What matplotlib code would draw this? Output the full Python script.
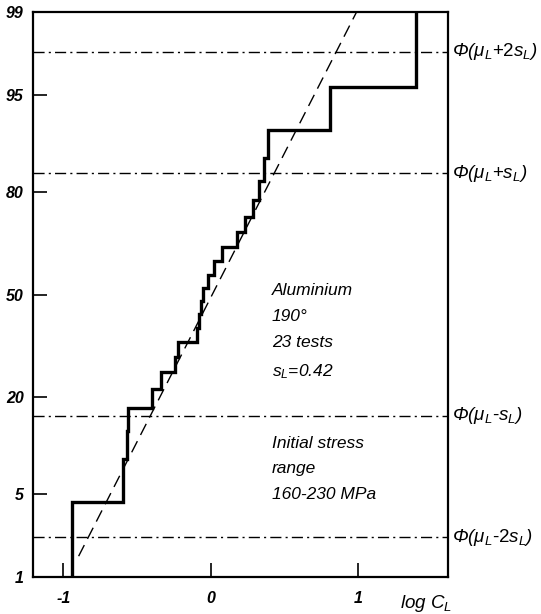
import numpy as np
import matplotlib
matplotlib.use("Agg")
import matplotlib.pyplot as plt
from statistics import NormalDist

# ---------------- data ----------------
log_c = [-0.942, -0.593, -0.569, -0.559, -0.400, -0.339, -0.244, -0.224,
         -0.095, -0.081, -0.068, -0.054, -0.020, 0.020, 0.075, 0.176,
         0.231, 0.285, 0.325, 0.359, 0.386, 0.807, 1.390]
cum_pct = [4.35, 8.70, 13.04, 17.39, 21.74, 26.09, 30.43, 34.78, 39.13,
           43.48, 47.83, 52.17, 56.52, 60.87, 65.22, 69.57, 73.91, 78.26,
           82.61, 86.96, 91.30, 95.65, 100.0]
fit_mu = 0.01
fit_s = 0.42
fit_p = [1.55, 99.5]
sigma_levels = [2, 1, -1, -2]
sigma_labels = [r"$\Phi(\mu_L$+2$s_L)$", r"$\Phi(\mu_L$+$s_L)$",
                r"$\Phi(\mu_L$-$s_L)$", r"$\Phi(\mu_L$-2$s_L)$"]
y_ticks = [1, 5, 20, 50, 80, 95, 99]
y_ticklabels = ["1", "5", "20", "50", "80", "95", "99"]
x_ticks = [-1, 0, 1]
x_ticklabels = ["-1", "0", "1"]
note1 = "Aluminium\n190°\n23 tests\n" + r"$s_L$=0.42"
note2 = "Initial stress\nrange\n160-230 MPa"

# ---------------- fonts ----------------
plt.rcParams["font.family"] = ["Liberation Sans", "DejaVu Sans"]
plt.rcParams["mathtext.fontset"] = "custom"
plt.rcParams["mathtext.rm"] = "Liberation Sans:italic"
plt.rcParams["mathtext.it"] = "Liberation Sans:italic"
plt.rcParams["mathtext.bf"] = "Liberation Sans:bold"

_nd = NormalDist()
_inv = np.vectorize(lambda q: _nd.inv_cdf(q), otypes=[float])
_cdf = np.vectorize(lambda z: _nd.cdf(z), otypes=[float])


def fwd(p):
    p = np.asarray(p, dtype=float)
    q = np.clip(p / 100.0, 1e-6, 1 - 1e-6)
    return _inv(q)


def inv(z):
    z = np.asarray(z, dtype=float)
    return _cdf(z) * 100.0


fig = plt.figure(figsize=(5.41, 6.14), dpi=100)
ax = fig.add_axes([0.0616, 0.0607, 0.7671, 0.9193])
ax.set_yscale("function", functions=(fwd, inv))
ax.set_xlim(-1.203, 1.61)
ax.set_ylim(1, 99)

# step (empirical distribution)
levels = [0.0] + cum_pct
xs = np.repeat(np.array(log_c), 2)
ys = np.array([v for i in range(len(log_c)) for v in (levels[i], levels[i + 1])])
ys = np.clip(ys, 0.3, 99.97)
ax.plot(xs, ys, color="black", lw=2.4, solid_joinstyle="miter", zorder=3)

# fitted normal line
fz = fwd(fit_p)
ax.plot(fit_mu + fit_s * fz, fit_p, color="black", lw=1.0,
        linestyle=(0, (9, 5)), zorder=2)

# sigma reference lines and labels
for k, lab in zip(sigma_levels, sigma_labels):
    p = float(inv(k))
    ax.axhline(p, color="black", lw=1.0, linestyle=(0, (8, 3, 1.5, 3)), zorder=1)
    ax.annotate(lab, xy=(1.0, p), xycoords=("axes fraction", "data"),
                xytext=(3, 0), textcoords="offset points",
                ha="left", va="center", fontsize=13.5, annotation_clip=False)

# texts
ax.text(0.575, 0.520, note1, transform=ax.transAxes, fontsize=12.5,
        style="italic", va="top", ha="left", linespacing=1.9)
ax.text(0.575, 0.250, note2, transform=ax.transAxes, fontsize=12.5,
        style="italic", va="top", ha="left", linespacing=1.9)

# ticks
ax.set_yticks(y_ticks)
ax.set_yticklabels(y_ticklabels)
ax.set_xticks(x_ticks)
ax.set_xticklabels(x_ticklabels)
ax.minorticks_off()
ax.tick_params(axis="both", direction="in", length=10, width=1.2,
               labelsize=11.5, top=False, right=False)
ax.tick_params(axis="y", pad=7)
ax.tick_params(axis="x", pad=10)
for t in ax.get_xticklabels() + ax.get_yticklabels():
    t.set_fontstyle("italic")
    t.set_fontweight("bold")

for sp in ax.spines.values():
    sp.set_linewidth(1.6)

fig.text(400 / 541, 1 - 603 / 614, r"$log\ C_L$", fontsize=13.5,
         ha="left", va="center")

fig.savefig("out.png", dpi=100)
